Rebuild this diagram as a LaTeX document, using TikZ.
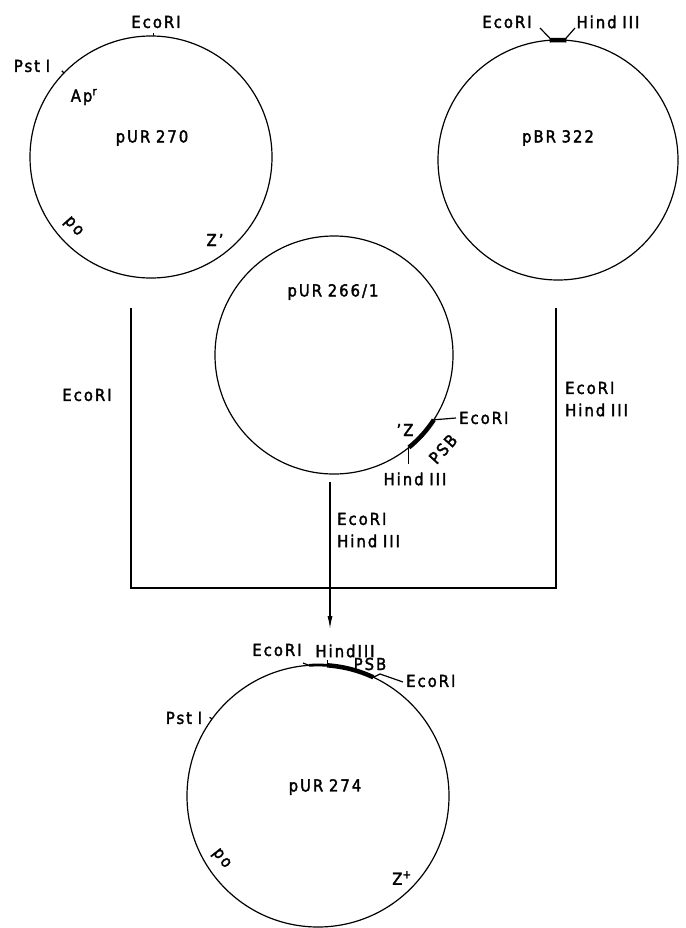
\documentclass[tikz,border=0pt]{standalone}
\usepackage{fontspec}
\setmainfont{DejaVu Sans Condensed}[LetterSpace=12, WordSpace=0.85, AutoFakeBold=2]
\usetikzlibrary{arrows.meta,calc}
\begin{document}
\begin{tikzpicture}[x=1pt,y=1pt,
  lbl/.style={font=\fontsize{16.5}{20}\selectfont\bfseries, inner sep=0pt},
  plasmid/.style={circle, draw, line width=1.2pt, inner sep=0pt, outer sep=0pt},
  ln/.style={line width=1.2pt},
  psb/.style={line width=4.5pt},
  psbthin/.style={line width=2.8pt}]
\useasboundingbox (0,0) rectangle (685,-928);
% plasmids
\node[plasmid, minimum size=242pt] (A) at (151,-157) {};
\node[plasmid, minimum size=240pt] (B) at (558,-160) {};
\node[plasmid, minimum size=238pt] (C) at (334,-355) {};
\node[plasmid, minimum size=262pt] (D) at (318,-796) {};
% pUR 270
\node[lbl] (Aname) at (152,-138) {pUR 270};
\node[lbl] (Aeco) at (156,-22) {EcoRI};
\draw[ln] (A.89) -- ++(0,3);
\node[lbl] (Apst) at (32,-66) {Pst I};
\draw[ln] (A.136) -- ++(136:3);
\node[lbl] (Aap) at (84,-97) {Ap\textsuperscript{r}};
\node[lbl, rotate=-48] (Apo) at (73,-227) {po};
\node[lbl] (Az) at (215,-240) {Z’};
% pBR 322
\node[lbl] (Bname) at (558,-138) {pBR 322};
\draw[psb] (B.94) arc[start angle=94, end angle=86, radius=120];
\node[lbl] (Beco) at (507,-22) {EcoRI};
\node[lbl] (Bhind) at (608,-22) {Hind III};
\coordinate (Be) at (540,-28);
\coordinate (Bh) at (575,-28);
\draw[ln] (B.93) -- (Be);
\draw[ln] (B.87) -- (Bh);
% pUR 266/1
\node[lbl] (Cname) at (333,-292) {pUR 266/1};
\draw[psb] (C.-33) arc[start angle=-33, end angle=-51, radius=119];
\coordinate (Ce) at (456,-418);
\draw[ln] (C.-33) -- (Ce);
\node[lbl, anchor=west] (Ceco) at (459,-418) {EcoRI};
\coordinate (Ch) at ($(C.-51)+(0,-17)$);
\draw[ln] (C.-51) -- (Ch);
\node[lbl] (Chind) at (415,-479) {Hind III};
\node[lbl] (Cz) at (405,-430) {’Z};
\node[lbl, rotate=48] (Cpsb) at (443,-449) {PSB};
% connectors
\coordinate (l1) at (131,-308);
\coordinate (l2) at (131,-588);
\coordinate (r1) at (556,-308);
\coordinate (r2) at (556,-588);
\draw[ln] (l1) -- (l2) -- (r2) -- (r1);
\coordinate (m1) at (330,-482);
\coordinate (m2) at (330,-629);
\draw[ln, -{Latex[length=13pt,width=5pt]}] (m1) -- (m2);
\node[lbl] (Leco) at (87,-395) {EcoRI};
\node[lbl, anchor=west] (Reco) at (565,-388) {EcoRI};
\node[lbl, anchor=west] (Rhind) at (565,-410) {Hind III};
\node[lbl, anchor=west] (Meco) at (337,-519) {EcoRI};
\node[lbl, anchor=west] (Mhind) at (337,-541) {Hind III};
% pUR 274
\node[lbl] (Dname) at (325,-787) {pUR 274};
\draw[psbthin] (D.94) arc[start angle=94, end angle=86, radius=131];
\draw[psb] (D.86) arc[start angle=86, end angle=65, radius=131];
\coordinate (De1) at (303,-663);
\draw[ln] (D.94) -- (De1);
\node[lbl] (Deco1) at (277,-650) {EcoRI};
\draw[ln] (D.86) -- ++(0,5);
\node[lbl] (Dhind) at (345,-651) {HindIII};
\node[lbl] (Dpsb) at (370,-664) {PSB};
\coordinate (Dk) at (380,-674);
\coordinate (De2) at (403,-682);
\draw[ln] (D.65) -- (Dk) -- (De2);
\node[lbl, anchor=west] (Deco2) at (406,-681) {EcoRI};
\node[lbl] (Dpst) at (184,-718) {Pst I};
\draw[ln] (D.144) -- ++(144:3);
\node[lbl, rotate=-52] (Dpo) at (221,-859) {po};
\node[lbl] (Dz) at (402,-878) {Z\textsuperscript{+}};
\end{tikzpicture}
\end{document}
